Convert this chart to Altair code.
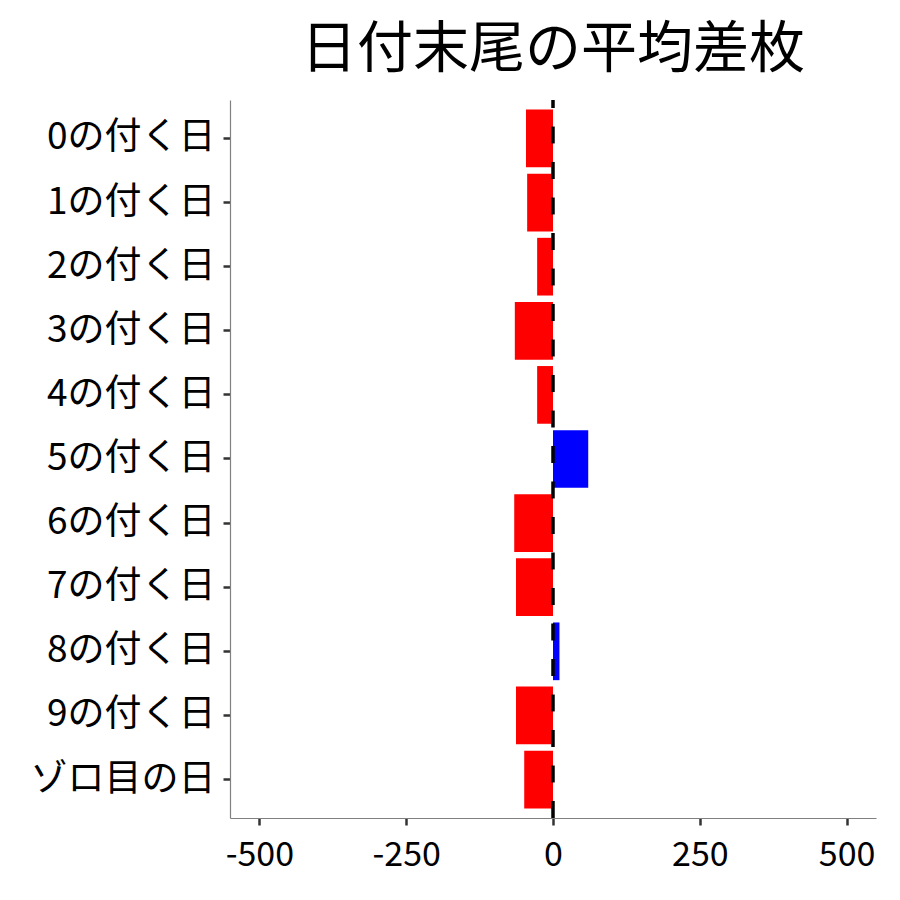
import altair as alt
import pandas as pd

categories = ["0の付く日", "1の付く日", "2の付く日", "3の付く日", "4の付く日",
              "5の付く日", "6の付く日", "7の付く日", "8の付く日", "9の付く日", "ゾロ目の日"]
values = [-46, -44, -27, -65, -27, 60, -66, -63, 11, -63, -49]
x_ticks = [-500, -250, 0, 250, 500]

df = pd.DataFrame({"cat": categories, "val": values})
df["sign"] = ["pos" if v > 0 else "neg" for v in values]

FONT = "Noto Sans CJK JP"

bars = alt.Chart(df).mark_bar().encode(
    y=alt.Y("cat:N", sort=categories, title=None,
            scale=alt.Scale(paddingInner=0.1, paddingOuter=0.15),
            axis=alt.Axis(labelFontSize=37, labelFont=FONT, labelColor="black",
                          labelLimit=0,
                          tickColor="#333333", tickSize=7, tickWidth=2.5,
                          domainColor="#808080", domainWidth=1.2, labelPadding=8,
                          grid=False)),
    x=alt.X("val:Q", title=None,
            scale=alt.Scale(domain=[-550, 550], nice=False),
            axis=alt.Axis(values=x_ticks, labelFontSize=34,
                          labelExpr="replace(format(datum.value, 'd'), '−', '-')",
                          labelFont=FONT, labelColor="black",
                          tickColor="#333333", tickSize=7, tickWidth=2.5,
                          domainColor="#808080", domainWidth=1.2, labelPadding=13,
                          grid=False)),
    color=alt.Color("sign:N", scale=alt.Scale(domain=["neg", "pos"], range=["#FF0000", "#0000FF"]),
                    legend=None),
)

zero = alt.Chart(pd.DataFrame({"z": [0]})).mark_rule(
    color="black", strokeWidth=3.5, strokeDash=[17, 18.5]
).encode(x="z:Q", y=alt.value(718), y2=alt.value(0))

chart = alt.layer(bars, zero).properties(
    width=646, height=718,
    background="white",
    title=alt.TitleParams("日付末尾の平均差枚", fontSize=56, font=FONT,
                          fontWeight="normal", color="black", anchor="middle", offset=19),
    autosize=alt.AutoSizeParams(type="none"),
    padding={"left": 222, "top": 92, "right": 10, "bottom": 70},
).configure_view(strokeWidth=0, stroke="transparent")

chart.save("out.html", embed_options={"renderer": "svg", "actions": False})
